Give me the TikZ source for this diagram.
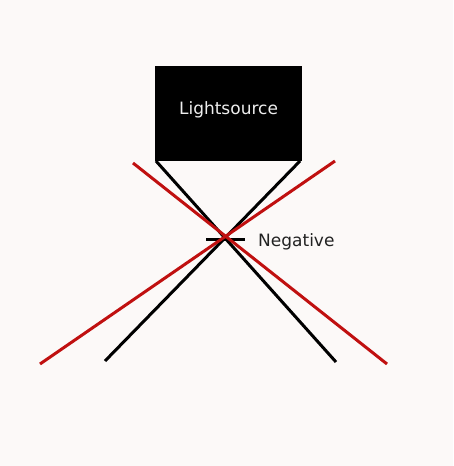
\documentclass[tikz,border=0pt]{standalone}
\usepackage{fontspec}
\setmainfont{DejaVu Sans}
\definecolor{bg}{HTML}{FCF9F8}
\definecolor{rayred}{HTML}{C01010}
\definecolor{txtgray}{HTML}{222222}
\definecolor{lighttxt}{HTML}{EEEEEE}
\tikzset{
  ray/.style={line width=3pt},
  redray/.style={line width=3pt, draw=rayred},
  box/.style={fill=black, draw=none, minimum width=147pt, minimum height=95pt, inner sep=0pt},
  boxtxt/.style={text=lighttxt, font=\fontsize{17}{19}\selectfont, inner sep=0pt},
  lbl/.style={text=txtgray, font=\fontsize{17}{19}\selectfont, anchor=west, inner sep=0pt}
}
\begin{document}
\begin{tikzpicture}[x=1pt,y=-1pt]
\fill[bg] (0,0) rectangle (453,466);
\useasboundingbox (0,0) rectangle (453,466);
\node[box] (src) at (228.5,113.5) {};
\node[boxtxt] (srctxt) at (228.5,109.5) {Lightsource};
\coordinate (bl) at (156,161);
\coordinate (br) at (300,161);
\coordinate (b1) at (336,362);
\coordinate (b2) at (105,361);
\coordinate (r1a) at (133,163);
\coordinate (r1b) at (387,364);
\coordinate (r2a) at (335,161);
\coordinate (r2b) at (40,364);
\coordinate (na) at (206,239.5);
\coordinate (nb) at (245,239.5);
\draw[ray] (bl) -- (b1);
\draw[ray] (br) -- (b2);
\draw[ray] (na) -- (nb);
\draw[redray] (r1a) -- (r1b);
\draw[redray] (r2a) -- (r2b);
\node[lbl] (neg) at (258,242) {Negative};
\end{tikzpicture}
\end{document}
